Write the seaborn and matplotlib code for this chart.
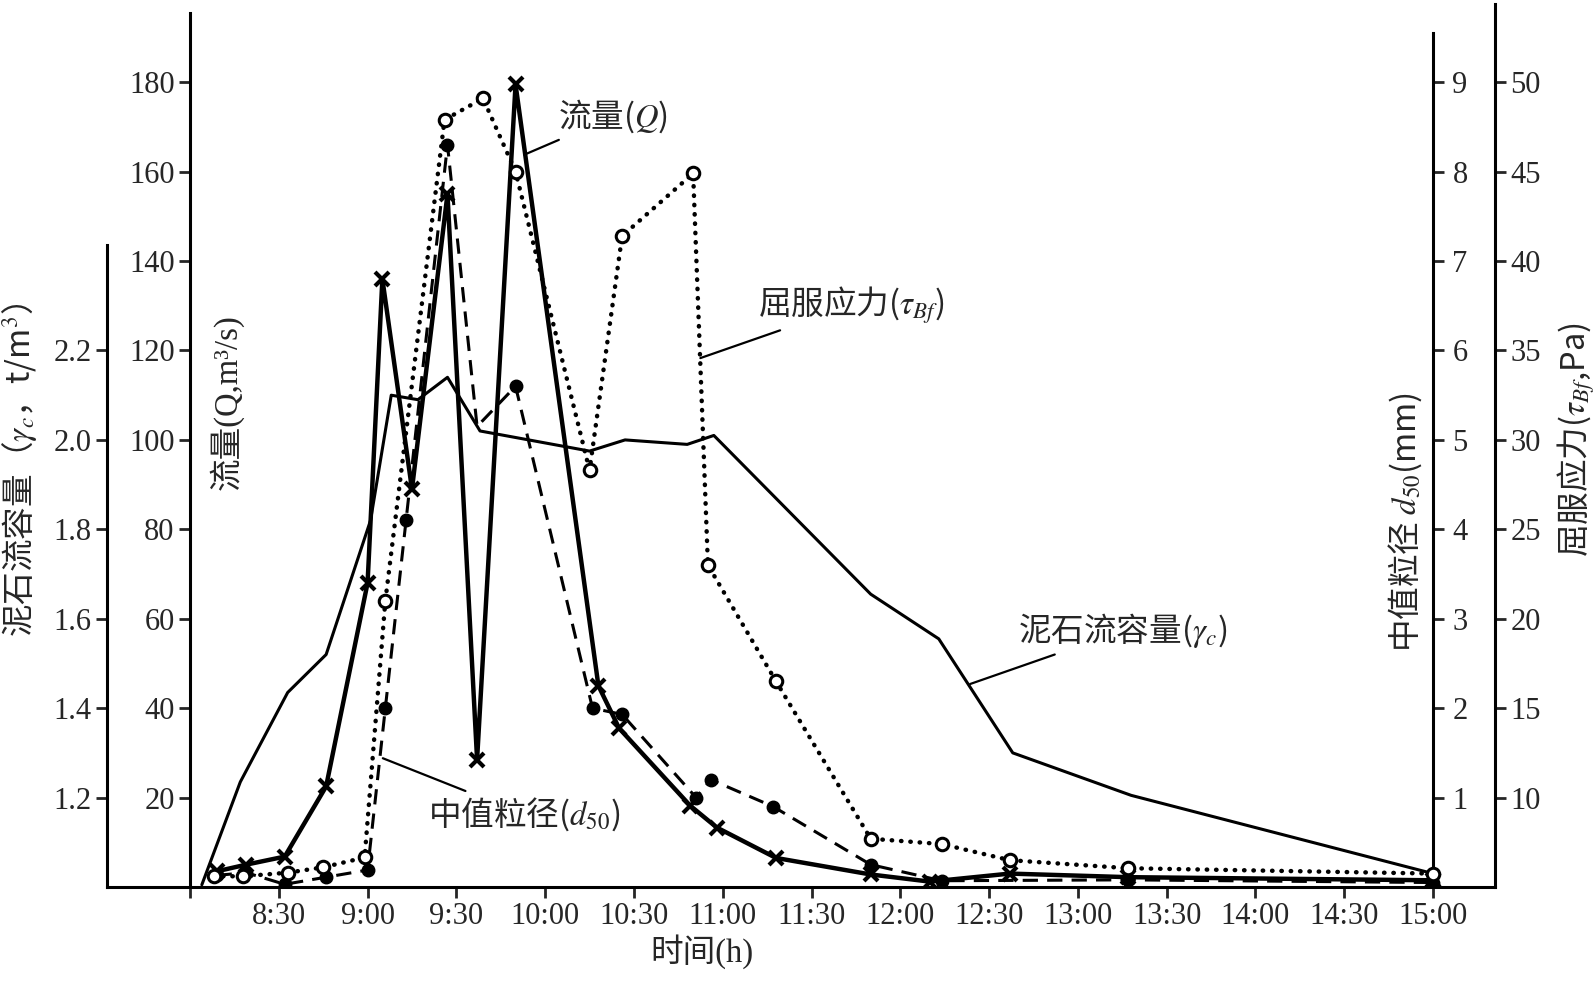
import matplotlib
matplotlib.use("Agg")
import matplotlib.pyplot as plt
import numpy as np
import pandas as pd
import seaborn as sns

# ---------------- data ----------------
q_time = ["8:09", "8:19", "8:32", "8:46", "9:00", "9:05", "9:15", "9:27", "9:37", "9:50",
          "10:18", "10:25", "10:49", "10:58", "11:18", "11:50", "12:10", "12:37", "13:17", "15:00"]
q_value = [3.5, 5.0, 6.8, 22.5, 68, 136, 89, 155, 28.5, 179.5,
           45, 35.5, 18.2, 13.3, 6.5, 2.8, 1.2, 3.0, 2.2, 1.5]

gamma_time = ["8:04", "8:17", "8:33", "8:46", "9:01", "9:08", "9:17", "9:27", "9:38", "10:15",
              "10:27", "10:48", "10:57", "11:50", "12:13", "12:38", "13:18", "15:00"]
gamma_value = [1.005, 1.235, 1.435, 1.52, 1.82, 2.10, 2.09, 2.14, 2.02, 1.975,
               2.00, 1.99, 2.01, 1.655, 1.555, 1.30, 1.205, 1.03]

d50_time = ["8:09", "8:19", "8:32", "8:46", "9:00", "9:06", "9:13", "9:27", "9:37", "9:50",
            "10:16", "10:26", "10:51", "10:56", "11:17", "11:50", "12:14", "13:17", "15:00"]
d50_value = [0.13, 0.16, 0.03, 0.11, 0.19, 2.0, 4.1, 8.3, 5.15, 5.6,
             2.0, 1.93, 1.0, 1.2, 0.9, 0.25, 0.07, 0.08, 0.05]
d50_hidden_marker = 8   # the 9:37 point is hidden under the other lines in the reference

tau_time = ["8:08", "8:18", "8:33", "8:45", "8:59", "9:06", "9:26", "9:39", "9:50", "10:15",
            "10:26", "10:50", "10:55", "11:18", "11:50", "12:14", "12:37", "13:17", "15:00"]
tau_value = [5.6, 5.6, 5.8, 6.1, 6.65, 21.0, 47.9, 49.1, 45.0, 28.3,
             41.4, 44.9, 23.0, 16.5, 7.7, 7.4, 6.5, 6.05, 5.75]

xtick_labels = ["", "8:30", "9:00", "9:30", "10:00", "10:30", "11:00", "11:30", "12:00",
                "12:30", "13:00", "13:30", "14:00", "14:30", "15:00"]
q_ticks = [20, 40, 60, 80, 100, 120, 140, 160, 180]
gamma_ticks = [1.2, 1.4, 1.6, 1.8, 2.0, 2.2]
d50_ticks = [1, 2, 3, 4, 5, 6, 7, 8, 9]
tau_ticks = [10, 15, 20, 25, 30, 35, 40, 45, 50]


def hours(labels):
    out = []
    for s in labels:
        h, m = s.split(":")
        out.append(int(h) + int(m) / 60.0)
    return out


df_q = pd.DataFrame({"t": hours(q_time), "v": q_value})
df_g = pd.DataFrame({"t": hours(gamma_time), "v": gamma_value})
df_d = pd.DataFrame({"t": hours(d50_time), "v": d50_value})
df_t = pd.DataFrame({"t": hours(tau_time), "v": tau_value})

# ---------------- style ----------------
sns.set_style("ticks")
plt.rcParams["font.family"] = ["Liberation Serif", "Noto Sans CJK SC"]
plt.rcParams["mathtext.fontset"] = "stix"
plt.rcParams["axes.unicode_minus"] = False
CJK = "Noto Sans CJK SC"   # used for strings mixing CJK text and mathtext

FS = 22      # tick labels
LFS = 23.5   # axis labels / annotations
fig = plt.figure(figsize=(15.96, 9.83), dpi=100)
ax = fig.add_axes([107 / 1596, 1 - 887 / 983, (1495 - 107) / 1596, (887 - 4) / 983])

QMAX = 197.5
X0, X1 = 7.5326, 15.349
ax.set_xlim(X0, X1)
ax.set_ylim(0, QMAX)

ax_g = ax.twinx()
ax_d = ax.twinx()
ax_t = ax.twinx()
ax_g.set_ylim(1.0, 1.0 + QMAX / 100.0)
ax_d.set_ylim(0, QMAX / 20.0)
ax_t.set_ylim(5.0, 5.0 + QMAX * 0.25)

# ---------------- series ----------------
sns.lineplot(data=df_g, x="t", y="v", ax=ax_g, color="black", linewidth=2.2,
             errorbar=None, legend=False, sort=False)
sns.lineplot(data=df_t, x="t", y="v", ax=ax_t, color="black", linewidth=3.2,
             linestyle=(0, (0.1, 2.0)), dash_capstyle="round",
             marker="o", markersize=9, markerfacecolor="white",
             markeredgecolor="black", markeredgewidth=2.2,
             errorbar=None, legend=False, sort=False)
sns.lineplot(data=df_d, x="t", y="v", ax=ax_d, color="black", linewidth=2.2,
             linestyle=(0, (5, 3)), marker="o", markersize=9,
             markerfacecolor="black", markeredgecolor="black", markeredgewidth=1,
             markevery=[i for i in range(len(d50_value)) if i != d50_hidden_marker],
             errorbar=None, legend=False, sort=False)
sns.lineplot(data=df_q, x="t", y="v", ax=ax, color="black", linewidth=3.2,
             marker="x", markersize=10, markeredgewidth=3, markeredgecolor="black",
             errorbar=None, legend=False, sort=False)

# ---------------- axes / spines ----------------
SP_W = 2.2
for a in (ax, ax_g, ax_d, ax_t):
    for s in a.spines.values():
        s.set_linewidth(SP_W)
        s.set_color("black")

# main (Q) axis
ax.spines["top"].set_visible(False)
ax.spines["right"].set_visible(False)
ax.spines["left"].set_position(("data", 8.0))
ax.spines["left"].set_bounds(0, 195.5)
ax.set_yticks(q_ticks)
ax.set_yticklabels([str(v) for v in q_ticks])
ax.set_xticks(np.arange(8.0, 15.01, 0.5))
ax.set_xticklabels(xtick_labels)
ax.tick_params(axis="y", direction="out", length=8, width=2, labelsize=FS, pad=3)
ax.tick_params(axis="x", direction="out", length=8, width=2, labelsize=FS, pad=3)
ax.set_xlabel("时间(h)", fontsize=LFS)
ax.xaxis.set_label_coords((702 - 107) / 1388, (887 - 952) / 883)
ax.xaxis.label.set_va("center")
ax.set_ylabel("流量(Q,m³/s)", fontsize=LFS)
ax.yaxis.set_label_coords((226 - 107) / 1388, (887 - 402) / 883)
ax.yaxis.label.set_va("center")

# gamma axis (outer left)
for k in ("top", "right", "bottom"):
    ax_g.spines[k].set_visible(False)
ax_g.spines["left"].set_visible(True)
ax_g.spines["left"].set_position(("axes", 0.0))
ax_g.spines["left"].set_bounds(1.0, 2.436)
ax_g.yaxis.tick_left()
ax_g.set_yticks(gamma_ticks)
ax_g.set_yticklabels([f"{v:.1f}" for v in gamma_ticks])
ax_g.tick_params(axis="y", direction="out", length=8, width=2, labelsize=FS, pad=3)
ax_g.set_ylabel("泥石流容量（$\\gamma_c$，t/m$^3$）", fontsize=LFS, fontfamily=CJK)
ax_g.yaxis.set_label_position("left")
ax_g.yaxis.set_label_coords((20 - 107) / 1388, (887 - 470) / 883)
ax_g.yaxis.label.set_va("center")

# d50 axis (inner right)
for k in ("top", "left", "bottom"):
    ax_d.spines[k].set_visible(False)
ax_d.spines["right"].set_position(("data", 15.0))
ax_d.spines["right"].set_bounds(0, 9.55)
ax_d.set_yticks(d50_ticks)
ax_d.set_yticklabels([str(v) for v in d50_ticks])
ax_d.tick_params(axis="y", direction="out", length=8, width=2, labelsize=FS, pad=6)
ax_d.set_ylabel("中值粒径 $d_{50}$(mm)", fontsize=LFS, fontfamily=CJK)
ax_d.yaxis.set_label_position("right")
ax_d.yaxis.set_label_coords((1405 - 107) / 1388, (887 - 522) / 883)
ax_d.yaxis.label.set_va("center")

# tau axis (outer right)
for k in ("top", "left", "bottom"):
    ax_t.spines[k].set_visible(False)
ax_t.spines["right"].set_position(("axes", 1.0))
ax_t.set_yticks(tau_ticks)
ax_t.set_yticklabels([str(v) for v in tau_ticks])
ax_t.tick_params(axis="y", direction="out", length=8, width=2, labelsize=FS, pad=3)
ax_t.set_ylabel("屈服应力($\\tau_{Bf}$,Pa)", fontsize=LFS, fontfamily=CJK)
ax_t.yaxis.set_label_position("right")
ax_t.yaxis.set_label_coords((1576 - 107) / 1388, (887 - 440) / 883)
ax_t.yaxis.label.set_va("center")

ax.grid(False)
for a in (ax_g, ax_d, ax_t):
    a.grid(False)

# ---------------- annotations ----------------
arrow = dict(arrowstyle="-", color="black", lw=1.6, shrinkA=2, shrinkB=0)
ax_t.annotate("流量($Q$)", xy=(9.883, 5 + 163.8 * 0.25), xytext=(10.072, 5 + 172.3 * 0.25),
              ha="left", va="center", fontsize=LFS, fontfamily=CJK, arrowprops=arrow)
ax_t.annotate("屈服应力($\\tau_{Bf}$)", xy=(10.874, 5 + 118.3 * 0.25),
              xytext=(11.201, 5 + 130.1 * 0.25),
              ha="left", va="center", fontsize=LFS, fontfamily=CJK, arrowprops=arrow)
ax_t.annotate("泥石流容量($\\gamma_c$)", xy=(12.393, 5 + 45.4 * 0.25),
              xytext=(12.663, 5 + 57.3 * 0.25),
              ha="left", va="center", fontsize=LFS, fontfamily=CJK, arrowprops=arrow)
ax_t.annotate("中值粒径($d_{50}$)", xy=(9.086, 5 + 28.8 * 0.25),
              xytext=(9.338, 5 + 16.3 * 0.25),
              ha="left", va="center", fontsize=LFS, fontfamily=CJK, arrowprops=arrow)

fig.savefig("out.png", dpi=100)
